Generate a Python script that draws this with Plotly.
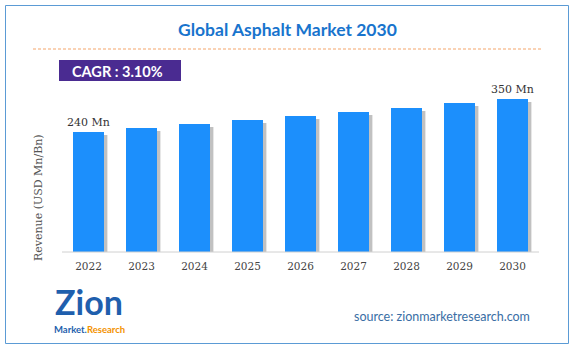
import plotly.graph_objects as go

years = ["2022", "2023", "2024", "2025", "2026", "2027", "2028", "2029", "2030"]
revenue = [240, 253, 266, 280, 293, 307, 321, 336, 350]
labels = {"2022": "240 Mn", "2030": "350 Mn"}
title_text = "Global Asphalt Market 2030"
cagr_text = "CAGR : 3.10%"
y_title = "Revenue (USD Mn/Bn)"
source_text = "source: zionmarketresearch.com"

W, H = 575, 351
L, R, T, B = 62, 36, 85, 99
Y_MIN, Y_MAX = -160, 396.7
pw, ph = W - L - R, H - T - B


def px(x):
    return (x - L) / pw


def py(y):
    return (H - B - y) / ph


lengths = [v - Y_MIN for v in revenue]
bar_text = [labels.get(y, "") for y in years]

fig = go.Figure()
# soft shadows
for off, alpha in [(0.085, 0.12), (0.055, 0.22)]:
    fig.add_trace(go.Bar(
        x=years, y=[l - 10 for l in lengths], base=Y_MIN,
        width=0.58, offset=-0.29 + off,
        marker=dict(color=f"rgba(60,60,60,{alpha})", line=dict(width=0)),
        hoverinfo="skip", showlegend=False,
    ))
fig.add_trace(go.Bar(
    x=years, y=lengths, base=Y_MIN, width=0.58, offset=-0.29,
    marker=dict(color="#1C8FFC", line=dict(width=0)),
    text=bar_text, textposition="outside", cliponaxis=False, constraintext="none",
    outsidetextfont=dict(family="DejaVu Serif", size=11, color="#333333"),
    customdata=revenue, hovertemplate="%{x}: %{customdata}<extra></extra>",
    showlegend=False,
))

annotations = [
    dict(x=px(287.5), y=py(30), xref="paper", yref="paper", text=f"<b>{title_text}</b>",
         showarrow=False, xanchor="center", yanchor="middle",
         font=dict(family="Lato", size=17.5, color="#1874CD")),
    dict(x=px(70), y=py(71), xref="paper", yref="paper", text=f"<b>{cagr_text}</b>",
         showarrow=False, xanchor="left", yanchor="middle",
         font=dict(family="Lato", size=14.5, color="#FFFFFF")),
    dict(x=px(38), y=py(198), xref="paper", yref="paper", text=y_title,
         showarrow=False, textangle=-90, xanchor="center", yanchor="middle",
         font=dict(family="DejaVu Serif", size=11, color="#555555")),
    dict(x=px(532), y=py(316), xref="paper", yref="paper", text=source_text,
         showarrow=False, xanchor="right", yanchor="middle",
         font=dict(family="Lato", size=12.5, color="#3A6EA5")),
    dict(x=px(89), y=py(322.5), xref="paper", yref="paper", text="<b>Zion</b>",
         showarrow=False, xanchor="center", yanchor="bottom", borderpad=0,
         font=dict(family="Lato", size=34, color="#1F5FAD")),
    dict(x=px(89), y=py(322.5), xref="paper", yref="paper",
         text="<b>Market.<span style='color:#F39200'>Research</span></b>",
         showarrow=False, xanchor="center", yanchor="top", borderpad=0,
         font=dict(family="Lato", size=9.5, color="#1F5FAD")),
]

shapes = [
    dict(type="rect", xref="paper", yref="paper", x0=px(5.5), x1=px(568.5), y0=py(5.5), y1=py(343.5),
         line=dict(color="#5B9BD5", width=1), fillcolor="rgba(0,0,0,0)", layer="below"),
    dict(type="line", xref="paper", yref="paper", x0=px(33), x1=px(542), y0=py(49), y1=py(49),
         line=dict(color="#F4A56A", width=1, dash="3px,2px")),
    dict(type="rect", xref="paper", yref="paper", x0=px(59), x1=px(181), y0=py(60), y1=py(81),
         line=dict(width=0), fillcolor="#4A2B91"),
    dict(type="line", xref="paper", yref="paper", x0=px(62), x1=px(539), y0=py(252), y1=py(252),
         line=dict(color="#D0D0D0", width=1)),
]

fig.update_layout(
    width=W, height=H, margin=dict(l=L, r=R, t=T, b=B),
    paper_bgcolor="white", plot_bgcolor="white",
    barmode="overlay", bargap=0,
    annotations=annotations, shapes=shapes,
    xaxis=dict(type="category", range=[-0.5, 8.5], showgrid=False, zeroline=False,
               showline=False, ticks="outside", ticklen=4, tickcolor="rgba(0,0,0,0)",
               tickfont=dict(family="DejaVu Serif", size=10.5, color="#444444")),
    yaxis=dict(range=[Y_MIN, Y_MAX], visible=False, showgrid=False, zeroline=False),
)

fig.write_html("out.html")
